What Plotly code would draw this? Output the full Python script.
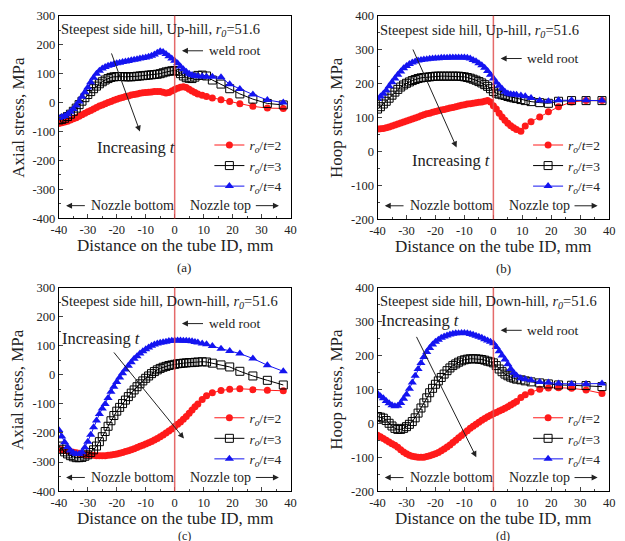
import plotly.graph_objects as go

# ---------------- data ----------------
distance_mm = list(range(-40, 9)) + [9.5, 11, 13, 16, 19, 22.5, 27, 32, 37.5]

# (a) Axial stress, up-hill
axial_up_ro_t2 = [-72, -70, -67, -64, -60, -56, -52, -47, -42, -37,
                  -32, -27, -22, -17, -12, -8, -4, 0, 4, 8,
                  12, 15, 18, 21, 23, 26, 28, 30, 32, 34,
                  35, 36, 37, 38, 38, 38, 36, 33, 35, 40,
                  45, 50, 53, 55, 52, 46, 40, 35, 30,
                  25, 21, 16, 10, 4, -4, -13, -19, -20]
axial_up_ro_t3 = [-60, -58, -54, -48, -40, -30, -19, -7, 5, 17,
                  28, 38, 48, 57, 65, 72, 78, 83, 87, 89,
                  90, 90, 90, 89, 89, 89, 90, 91, 92, 93,
                  94, 95, 96, 97, 98, 100, 103, 106, 108, 110,
                  111, 108, 100, 92, 86, 84, 83, 88, 94,
                  95, 92, 78, 64, 48, 30, 12, -3, -8]
axial_up_ro_t4 = [-52, -50, -46, -40, -32, -22, -10, 4, 20, 36,
                  52, 70, 86, 100, 110, 118, 123, 127, 130, 133,
                  136, 138, 140, 142, 144, 146, 148, 150, 152, 154,
                  156, 158, 162, 166, 172, 177, 175, 168, 160, 152,
                  145, 136, 125, 115, 107, 100, 95, 92, 91,
                  90, 89, 89, 88, 63, 47, 28, 9, 0]

# (b) Hoop stress, up-hill
hoop_up_ro_t2 = [66, 67, 68, 70, 72, 75, 78, 81, 84, 87,
                 90, 93, 96, 99, 102, 105, 108, 111, 113, 116,
                 118, 120, 122, 124, 126, 128, 130, 132, 134, 136,
                 138, 140, 141, 142, 144, 145, 146, 148, 150, 146,
                 135, 125, 113, 102, 92, 83, 76, 70, 65,
                 60, 75, 88, 102, 117, 132, 146, 150, 150]
hoop_up_ro_t3 = [125, 132, 140, 148, 157, 166, 175, 183, 190, 196,
                 201, 205, 209, 212, 215, 217, 218, 219, 220, 221,
                 222, 222, 222, 222, 222, 222, 222, 222, 222, 221,
                 220, 218, 216, 213, 210, 206, 202, 197, 192, 185,
                 177, 172, 169, 167, 165, 162, 160, 158, 156,
                 153, 150, 147, 144, 142, 148, 150, 150, 150]
hoop_up_ro_t4 = [155, 162, 170, 180, 192, 204, 215, 226, 236, 245,
                 252, 258, 262, 265, 268, 270, 271, 272, 273, 274,
                 275, 275, 276, 276, 276, 277, 277, 277, 277, 277,
                 277, 276, 274, 270, 266, 260, 254, 247, 237, 226,
                 215, 203, 194, 185, 176, 171, 169, 168, 167,
                 165, 163, 158, 150, 148, 151, 151, 151, 150]

# (c) Axial stress, down-hill
axial_dn_ro_t2 = [-255, -258, -260, -262, -264, -266, -268, -270, -272, -274,
                  -275, -276, -277, -278, -278, -278, -278, -277, -276, -274,
                  -272, -270, -267, -264, -261, -258, -254, -250, -246, -242,
                  -238, -234, -229, -224, -219, -213, -207, -200, -193, -186,
                  -178, -170, -162, -153, -143, -132, -121, -110, -100,
                  -85, -72, -62, -54, -50, -48, -51, -53, -55]
axial_dn_ro_t3 = [-245, -256, -265, -272, -278, -282, -285, -285, -284, -280,
                  -275, -267, -258, -245, -230, -213, -195, -177, -158, -140,
                  -125, -112, -99, -87, -75, -63, -52, -41, -31, -21,
                  -12, -4, 4, 11, 17, 22, 26, 29, 32, 34,
                  36, 38, 39, 40, 41, 42, 42, 43, 44,
                  45, 44, 40, 34, 27, 12, -4, -19, -35]
axial_dn_ro_t4 = [-190, -212, -232, -248, -260, -268, -272, -272, -266, -250,
                  -230, -206, -180, -157, -135, -116, -100, -80, -58, -41,
                  -25, -9, 5, 18, 31, 43, 55, 64, 73, 81,
                  88, 94, 100, 104, 108, 110, 112, 114, 116, 117,
                  118, 118, 118, 117, 117, 116, 115, 113, 111,
                  108, 105, 99, 90, 82, 73, 56, 33, 12]

# (d) Hoop stress, down-hill
hoop_dn_ro_t2 = [-35, -40, -45, -50, -55, -60, -65, -71, -78, -85,
                 -90, -94, -97, -99, -100, -100, -100, -98, -96, -93,
                 -90, -86, -81, -76, -70, -64, -57, -50, -43, -36,
                 -29, -22, -15, -9, -3, 3, 9, 14, 19, 24,
                 28, 32, 36, 40, 44, 49, 54, 59, 64,
                 76, 84, 92, 100, 104, 105, 103, 98, 88]
hoop_dn_ro_t3 = [20, 18, 15, 8, 0, -8, -15, -18, -18, -15,
                 -10, -3, 5, 16, 30, 45, 60, 75, 90, 103,
                 115, 125, 135, 145, 155, 163, 170, 175, 180, 184,
                 187, 189, 190, 190, 190, 189, 188, 186, 183, 181,
                 178, 170, 160, 152, 145, 140, 136, 133, 130,
                 128, 125, 122, 119, 116, 113, 112, 111, 108]
hoop_dn_ro_t4 = [88, 80, 74, 66, 59, 53, 50, 52, 60, 72,
                 85, 102, 120, 140, 160, 178, 195, 210, 222, 232,
                 240, 246, 252, 256, 259, 262, 264, 265, 265, 266,
                 266, 265, 263, 261, 258, 255, 252, 248, 244, 240,
                 236, 225, 212, 200, 188, 174, 160, 149, 141,
                 133, 130, 127, 122, 120, 117, 116, 116, 117]

x_ticks = [-40, -30, -20, -10, 0, 10, 20, 30, 40]
axial_ticks = [-400, -300, -200, -100, 0, 100, 200, 300]
hoop_ticks = [-200, -100, 0, 100, 200, 300, 400]
series_labels = ["<i>r</i><sub><i>o</i></sub>/<i>t</i>=2",
                 "<i>r</i><sub><i>o</i></sub>/<i>t</i>=3",
                 "<i>r</i><sub><i>o</i></sub>/<i>t</i>=4"]
panel_titles = ["Steepest side hill, Up-hill, <i>r</i><sub><i>0</i></sub>=51.6",
                "Steepest side hill, Up-hill, <i>r</i><sub><i>0</i></sub>=51.6",
                "Steepest side hill, Down-hill, <i>r</i><sub><i>0</i></sub>=51.6",
                "Steepest side hill, Down-hill, <i>r</i><sub><i>0</i></sub>=51.6"]
y_titles = ["Axial stress, MPa", "Hoop stress, MPa", "Axial stress, MPa", "Hoop stress, MPa"]
x_title = "Distance on the tube ID, mm"
captions = ["(a)", "(b)", "(c)", "(d)"]

# ---------------- figure ----------------
W, H = 625, 541
FONT = "Liberation Serif, Times New Roman, serif"
RED, BLACK, BLUE = "#ff1a1a", "#000000", "#1414f0"

panels = [
    dict(ys=[axial_up_ro_t2, axial_up_ro_t3, axial_up_ro_t4], yr=[-400, 300], yt=axial_ticks,
         px=(52, 289), py=(9, 217)),
    dict(ys=[hoop_up_ro_t2, hoop_up_ro_t3, hoop_up_ro_t4], yr=[-200, 400], yt=hoop_ticks,
         px=(378, 615), py=(9, 218)),
    dict(ys=[axial_dn_ro_t2, axial_dn_ro_t3, axial_dn_ro_t4], yr=[-400, 300], yt=axial_ticks,
         px=(52, 289), py=(288, 497)),
    dict(ys=[hoop_dn_ro_t2, hoop_dn_ro_t3, hoop_dn_ro_t4], yr=[-200, 400], yt=hoop_ticks,
         px=(378, 615), py=(288, 497)),
]

styles = [
    dict(color=RED, marker=dict(symbol="circle", size=7, color=RED)),
    dict(color=BLACK, marker=dict(symbol="square-open", size=8, color=BLACK, line=dict(width=1))),
    dict(color=BLUE, marker=dict(symbol="triangle-up", size=8, color=BLUE)),
]

fig = go.Figure()
layout = dict(width=W, height=H, margin=dict(l=0, r=0, t=0, b=0),
              paper_bgcolor="white", plot_bgcolor="white",
              font=dict(family=FONT, size=12, color="#222"))
annotations = []
shapes = []


def px2paper_x(p):
    return p / W


def px2paper_y(p):
    return 1 - p / H


for i, p in enumerate(panels):
    k = "" if i == 0 else str(i + 1)
    xa, ya = "x" + k, "y" + k
    leg = "legend" + k
    for j in range(3):
        st = styles[j]
        fig.add_trace(go.Scatter(
            x=distance_mm, y=p["ys"][j], mode="lines+markers", name=series_labels[j],
            line=dict(color=st["color"], width=1), marker=st["marker"],
            xaxis=xa, yaxis=ya, legend=leg, showlegend=True))
    xdom = [px2paper_x(p["px"][0]), px2paper_x(p["px"][1])]
    ydom = [px2paper_y(p["py"][1]), px2paper_y(p["py"][0])]
    layout["xaxis" + k] = dict(
        domain=xdom, anchor=ya, range=[-40, 40], tickvals=x_ticks,
        ticktext=[str(v) for v in x_ticks], ticks="inside", ticklen=4,
        minor=dict(ticks="inside", ticklen=2, tickvals=list(range(-35, 40, 10))),
        showline=True, linecolor="black", linewidth=1, mirror=True,
        showgrid=False, zeroline=False, tickfont=dict(size=12.5, family=FONT))
    yt = p["yt"]
    layout["yaxis" + k] = dict(
        domain=ydom, anchor=xa, range=p["yr"], tickvals=yt,
        ticktext=[str(v) for v in yt], ticks="inside", ticklen=4,
        minor=dict(ticks="inside", ticklen=2, tickvals=[v + 50 for v in yt[:-1]]),
        showline=True, linecolor="black", linewidth=1, mirror=True,
        showgrid=False, zeroline=False, tickfont=dict(size=12.5, family=FONT))
    # legend
    lx = 206 if i % 2 == 0 else 532
    ly = 126 if i < 2 else 406
    layout[leg] = dict(x=px2paper_x(lx), y=px2paper_y(ly), xanchor="left", yanchor="top",
                       bgcolor="rgba(0,0,0,0)", font=dict(family=FONT, size=13.5, color="#222"),
                       itemwidth=30, tracegroupgap=0)
    # weld line
    shapes.append(dict(type="line", xref=xa, yref=ya + " domain", x0=0, x1=0, y0=0, y1=1,
                       line=dict(color="rgba(225,80,80,0.85)", width=1.5)))
    # axis titles
    cx = (p["px"][0] + p["px"][1]) / 2
    annotations.append(dict(text=x_title, xref="paper", yref="paper", x=px2paper_x(cx),
                            y=px2paper_y(p["py"][1] + 28), xanchor="center", yanchor="middle",
                            showarrow=False, font=dict(family=FONT, size=17, color="#222")))
    cy = (p["py"][0] + p["py"][1]) / 2
    annotations.append(dict(text=y_titles[i], xref="paper", yref="paper",
                            x=px2paper_x(p["px"][0] - 42), y=px2paper_y(cy), textangle=-90,
                            xanchor="center", yanchor="middle", showarrow=False,
                            font=dict(family=FONT, size=17, color="#222")))
    # caption (bottom ones sit at the page edge, as in the reference)
    if i < 2:
        annotations.append(dict(text=captions[i], xref="paper", yref="paper",
                                x=px2paper_x(cx + 10), y=px2paper_y(p["py"][1] + 50),
                                xanchor="center", yanchor="middle", showarrow=False,
                                font=dict(family=FONT, size=13, color="#222")))
    else:
        annotations.append(dict(text=captions[i], xref="paper", yref="paper",
                                x=px2paper_x(cx + 10), y=px2paper_y(534),
                                xanchor="center", yanchor="top", showarrow=False,
                                font=dict(family=FONT, size=12, color="#222")))


def data_annots(xa, ya, items):
    for it in items:
        d = dict(xref=xa, yref=ya, font=dict(family=FONT, size=it.get("size", 14), color="#222"))
        d.update(it)
        d.pop("size", None)
        annotations.append(d)


def arrow(xa, ya, x0, y0, x1, y1, head=2, size=1, width=1):
    annotations.append(dict(xref=xa, yref=ya, axref=xa, ayref=ya, x=x1, y=y1, ax=x0, ay=y0,
                            text="", showarrow=True, arrowhead=head, arrowsize=size,
                            arrowwidth=width, arrowcolor="#222"))


# per-panel text positions (data coordinates)
ann_pos = [
    dict(title=(-39.8, 250), weld=(179,), inc=(-13.5, -155), incarr=(-22, 175, -12, -100), noz=-356),
    dict(title=(-39.8, 355), weld=(274,), inc=(-14.5, -28), incarr=(-28, 305, -12.7, 12), noz=-160),
    dict(title=(-39.8, 250), weld=(176,), inc=(-25.5, 126), incarr=(-21.4, 82, 3.2, -219), noz=-353),
    dict(title=(-39.8, 357), weld=(274,), inc=(-25.5, 302), incarr=(-26.8, 259, -5.9, -100), noz=-160),
]

for i, a in enumerate(ann_pos):
    k = "" if i == 0 else str(i + 1)
    xa, ya = "x" + k, "y" + k
    data_annots(xa, ya, [
        dict(text=panel_titles[i], x=a["title"][0], y=a["title"][1], xanchor="left",
             yanchor="middle", showarrow=False, size=14.5),
        dict(text="weld root", x=11.0, y=a["weld"][0], xanchor="left", yanchor="middle",
             showarrow=False, size=13.5),
        dict(text="Increasing <i>t</i>", x=a["inc"][0], y=a["inc"][1], xanchor="center",
             yanchor="middle", showarrow=False, size=16.5),
        dict(text="Nozzle bottom", x=-29.5, y=a["noz"], xanchor="left", yanchor="middle",
             showarrow=False, size=14),
        dict(text="Nozzle top", x=27.0, y=a["noz"], xanchor="right", yanchor="middle",
             showarrow=False, size=14),
    ])
    arrow(xa, ya, 10.3, a["weld"][0], 2.5, a["weld"][0], head=2, size=1.2)
    arrow(xa, ya, -30.5, a["noz"], -37.5, a["noz"], head=2, size=1.2)
    arrow(xa, ya, 27.5, a["noz"], 36.0, a["noz"], head=2, size=1.2)
    ia = a["incarr"]
    arrow(xa, ya, ia[0], ia[1], ia[2], ia[3], head=2, size=1.2)

layout["annotations"] = annotations
layout["shapes"] = shapes
fig.update_layout(**layout)
fig.write_html("out.html")
